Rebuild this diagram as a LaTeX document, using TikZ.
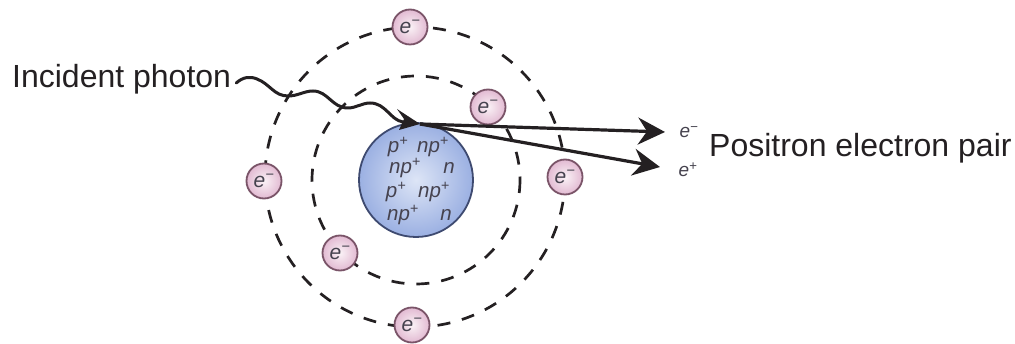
\documentclass[tikz,border=0pt]{standalone}
\usepackage{fontspec}
\setmainfont{Liberation Sans}
\usetikzlibrary{arrows.meta,calc}
\definecolor{inkdark}{HTML}{242022}
\definecolor{labelgrey}{HTML}{45424E}
\definecolor{ballrim}{HTML}{3E4A70}
\definecolor{ballin}{HTML}{DDE5F6}
\definecolor{ballout}{HTML}{9BB0E2}
\definecolor{shellrim}{HTML}{7A5468}
\definecolor{shellin}{HTML}{FAF2F6}
\definecolor{shellout}{HTML}{E2BAD2}
\tikzset{
  x=1pt,y=-1pt,
  orbit/.style={draw=inkdark,line width=2.7pt,dash pattern=on 13pt off 12pt},
  nucleus/.style={circle,draw=ballrim,line width=1.8pt,minimum size=114pt,inner sep=0pt,
    inner color=ballin,outer color=ballout},
  electron/.style={circle,draw=shellrim,line width=1.8pt,minimum size=35pt,inner sep=0pt,
    inner color=shellin,outer color=shellout,
    text=labelgrey,font=\fontsize{21}{21}\selectfont\itshape},
  particle/.style={text=labelgrey,inner sep=0pt,font=\fontsize{20.5}{20.5}\selectfont\itshape},
  emitted/.style={text=labelgrey,inner sep=0pt,font=\fontsize{19}{19}\selectfont\itshape},
  caption/.style={text=inkdark,inner sep=0pt,anchor=west,font=\fontsize{32}{32}\selectfont},
  track/.style={draw=inkdark,line width=3.2pt,-{Stealth[length=27pt,width=27pt,inset=9pt]}},
  wave/.style={draw=inkdark,line width=3pt,line cap=round},
  photonhead/.style={fill=inkdark,draw=none}
}
\begin{document}
\begin{tikzpicture}
\useasboundingbox (0,0) rectangle (1015,344);
\fill[white] (0,0) rectangle (1015,344);

% electron shells
\draw[orbit] (415,177) circle[radius=150];
\draw[orbit] (416,180) circle[radius=104];

% nucleus
\node[nucleus] (core) at (416,180) {};
\node[particle] (r1a) at (398,147) {p\textsuperscript{+}};
\node[particle] (r1b) at (433,147) {np\textsuperscript{+}};
\node[particle] (r2a) at (405,168) {np\textsuperscript{+}};
\node[particle] (r2b) at (449,168) {n};
\node[particle] (r3a) at (396,192) {p\textsuperscript{+}};
\node[particle] (r3b) at (434,192) {np\textsuperscript{+}};
\node[particle] (r4a) at (403,215) {np\textsuperscript{+}};
\node[particle] (r4b) at (446,215) {n};

% orbiting electrons
\node[electron] (e1) at (410,27) {e\textsuperscript{−}};
\node[electron] (e2) at (488,107) {e\textsuperscript{−}};
\node[electron] (e3) at (264,181) {e\textsuperscript{−}};
\node[electron] (e4) at (565,177) {e\textsuperscript{−}};
\node[electron] (e5) at (340,253) {e\textsuperscript{−}};
\node[electron] (e6) at (412,325) {e\textsuperscript{−}};

% text labels
\node[caption] (incident) at (12,79) {Incident photon};
\node[caption] (pair) at (709,148) {Positron electron pair};
\node[emitted] (minus) at (689,132) {e\textsuperscript{−}};
\node[emitted] (plus) at (688,170) {e\textsuperscript{+}};

% interaction point and track ends
\coordinate (hit) at (420,124);
\coordinate (tipm) at (665,132);
\coordinate (tipp) at (660,167);

% incoming photon
\draw[wave] (incident.east) ++(5,4) .. controls (243,77) and (250,76) .. (257,79)
  .. controls (270,84) and (274,96) .. (288,96)
  .. controls (298,96) and (304,91) .. (313,91)
  .. controls (328,91) and (332,108) .. (348,108)
  .. controls (356,108) and (362,103) .. (370,103)
  .. controls (386,103) and (390,120) .. (403,122);
\fill[photonhead] (hit) -- (397,109) -- (404,119) -- (399,130) -- cycle;

% outgoing pair
\draw[track] (hit) -- (tipm);
\draw[track] (hit) -- (tipp);
\end{tikzpicture}
\end{document}
